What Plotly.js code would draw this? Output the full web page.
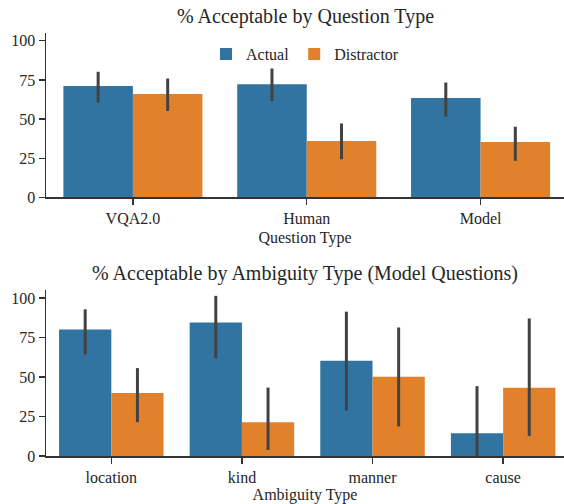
<!DOCTYPE html>
<html>
<head>
<meta charset="utf-8">
<script src="https://cdn.plot.ly/plotly-3.0.1.min.js"></script>
<style>html,body{margin:0;padding:0;background:#fff;}#chart{width:564px;height:504px;}</style>
</head>
<body>
<div id="chart"></div>
<script>
// Top panel: by question type
const qTypes = ["VQA2.0", "Human", "Model"];
const qActual = [71.1, 72.3, 63.4];
const qActualLo = [60.4, 61.5, 51.5];
const qActualHi = [80.2, 82.3, 73.4];
const qDistractor = [66.0, 36.0, 35.3];
const qDistractorLo = [55.1, 24.3, 23.4];
const qDistractorHi = [76.0, 47.2, 45.1];

// Bottom panel: by ambiguity type (model questions)
const aTypes = ["location", "kind", "manner", "cause"];
const aActual = [80.0, 84.5, 60.3, 14.4];
const aActualLo = [64.3, 61.8, 28.7, 0.0];
const aActualHi = [92.8, 101.3, 91.3, 44.2];
const aDistractor = [39.9, 21.4, 50.1, 43.1];
const aDistractorLo = [21.4, 3.8, 18.7, 12.7];
const aDistractorHi = [55.6, 43.3, 81.3, 87.0];

const seriesNames = ["Actual", "Distractor"];
const colors = ["#3274a1", "#e1812c"];
const errColor = "#424242";
const fontFam = "Liberation Serif, DejaVu Serif, serif";

function err(vals, lo, hi) {
  return {
    type: "data", symmetric: false,
    array: vals.map((v, i) => hi[i] - v),
    arrayminus: vals.map((v, i) => v - lo[i]),
    color: errColor, thickness: 3, width: 0
  };
}

function bar(x, y, lo, hi, k, xa, ya, showLegend) {
  return {
    type: "bar", x: x, y: y, name: seriesNames[k],
    marker: {color: colors[k], line: {width: 0}},
    error_y: err(y, lo, hi),
    xaxis: xa, yaxis: ya, showlegend: showLegend,
    legendgroup: seriesNames[k], offsetgroup: String(k),
    hoverinfo: "x+y"
  };
}

const data = [
  bar(qTypes, qActual, qActualLo, qActualHi, 0, "x", "y", true),
  bar(qTypes, qDistractor, qDistractorLo, qDistractorHi, 1, "x", "y", true),
  bar(aTypes, aActual, aActualLo, aActualHi, 0, "x2", "y2", false),
  bar(aTypes, aDistractor, aDistractorLo, aDistractorHi, 1, "x2", "y2", false)
];

const axisCol = "#333333";
const txtCol = "#262626";
const xBase = {
  type: "category", showgrid: false, zeroline: false,
  showline: true, linecolor: axisCol, linewidth: 1.5,
  ticks: "outside", ticklen: 6, tickwidth: 1.3, tickcolor: axisCol,
  tickfont: {family: fontFam, size: 16, color: txtCol},
  fixedrange: true
};
const yBase = {
  range: [0, 105], tickvals: [0, 25, 50, 75, 100],
  showgrid: false, zeroline: false,
  showline: true, linecolor: axisCol, linewidth: 1.5,
  ticks: "outside", ticklen: 6, tickwidth: 1.3, tickcolor: axisCol,
  tickfont: {family: fontFam, size: 16, color: txtCol},
  fixedrange: true
};

const layout = {
  width: 564, height: 504,
  margin: {l: 46, r: 0, t: 33, b: 48},
  paper_bgcolor: "#ffffff", plot_bgcolor: "#ffffff",
  barmode: "group", bargap: 0.2, bargroupgap: 0,
  font: {family: fontFam, color: txtCol},
  xaxis: Object.assign({}, xBase, {
    domain: [0, 1], anchor: "y", range: [-0.5, 2.48],
    title: {text: "Question Type", font: {family: fontFam, size: 16, color: txtCol}, standoff: 6}
  }),
  yaxis: Object.assign({}, yBase, {domain: [0.6116, 1], anchor: "x"}),
  xaxis2: Object.assign({}, xBase, {
    domain: [0, 1], anchor: "y2", range: [-0.5, 3.466],
    title: {text: "Ambiguity Type", font: {family: fontFam, size: 16, color: txtCol}, standoff: 5}
  }),
  yaxis2: Object.assign({}, yBase, {domain: [0, 0.3924], anchor: "x2"}),
  legend: {
    orientation: "h", x: 0.5, xanchor: "center", y: 0.950, yanchor: "middle",
    font: {family: fontFam, size: 16, color: txtCol},
    bgcolor: "rgba(0,0,0,0)", traceorder: "normal"
  },
  annotations: [
    {text: "% Acceptable by Question Type", xref: "paper", yref: "paper",
     x: 0.5, y: 1.038, xanchor: "center", yanchor: "middle", showarrow: false,
     font: {family: fontFam, size: 20, color: txtCol}},
    {text: "% Acceptable by Ambiguity Type (Model Questions)", xref: "paper", yref: "paper",
     x: 0.5, y: 0.4326, xanchor: "center", yanchor: "middle", showarrow: false,
     font: {family: fontFam, size: 20, color: txtCol}}
  ]
};

Plotly.newPlot("chart", data, layout, {displayModeBar: false, staticPlot: true});
</script>
</body>
</html>
